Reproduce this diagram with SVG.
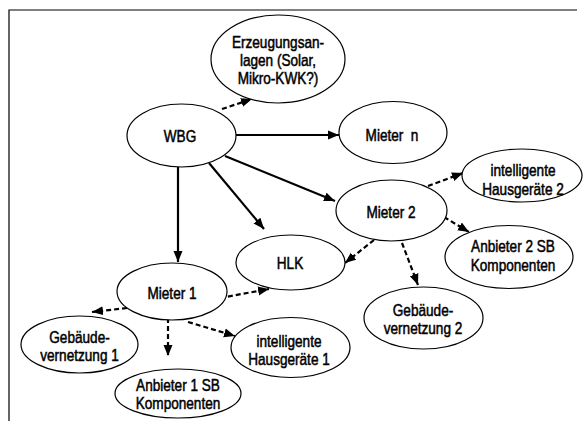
<svg xmlns="http://www.w3.org/2000/svg" width="585" height="421" viewBox="0 0 585 421">
  <style>
    .node ellipse { fill: #ffffff; stroke: #000000; stroke-width: 1.2; }
    .node text { font-family: "Liberation Sans", Arial, sans-serif; font-size: 16px; fill: #000000; stroke: #000000; stroke-width: 0.5; text-anchor: middle; }
    .solid { fill: none; stroke: #000000; stroke-width: 2.2; marker-end: url(#arrow); }
    .dashed { fill: none; stroke: #000000; stroke-width: 2.2; stroke-dasharray: 5 3; marker-end: url(#arrow); }
    .frame { fill: none; stroke: #000000; stroke-width: 1.2; }
  </style>
  <defs>
    <marker id="arrow" markerUnits="userSpaceOnUse" markerWidth="12" markerHeight="10" refX="11" refY="5" orient="auto">
      <path d="M0,0.5 L11,5 L0,9.5 Z" fill="#000000"/>
    </marker>
  </defs>
  <rect width="585" height="421" fill="#ffffff"/>
  <path class="frame" d="M9,421 V10 H577"/>

  <g id="connectors">
    <path class="dashed" d="M222,109 L252,99"/>
    <path class="solid" d="M236,135 L339,135"/>
    <path class="solid" d="M225,156 L335,201"/>
    <path class="solid" d="M209,163 L264,229"/>
    <path class="solid" d="M178,167 L178,262"/>
    <path class="dashed" d="M428,186 L463,173"/>
    <path class="dashed" d="M444,217 L469,232"/>
    <path class="dashed" d="M374,240 L345,263"/>
    <path class="dashed" d="M402,243 L418,285"/>
    <path class="dashed" d="M220,298 L269,289"/>
    <path class="dashed" d="M127,308 L92,312"/>
    <path class="dashed" d="M168,318 L168,356"/>
    <path class="dashed" d="M188,322 L235,336"/>
  </g>

  <!-- labels are set in a horizontally condensed Arial-metric face -->
  <g id="erzeugungsanlagen" class="node">
    <ellipse cx="278" cy="59" rx="67" ry="44"/>
    <text transform="translate(278 0) scale(0.85 1)"><tspan x="0" y="48">Erzeugungsan-</tspan><tspan x="0" y="66">lagen (Solar,</tspan><tspan x="0" y="84">Mikro-KWK?)</tspan></text>
  </g>
  <g id="wbg" class="node">
    <ellipse cx="181.5" cy="135.5" rx="54.5" ry="31.5"/>
    <text transform="translate(180 0) scale(0.85 1)" y="142">WBG</text>
  </g>
  <g id="mieter-n" class="node">
    <ellipse cx="393" cy="132.5" rx="54" ry="31"/>
    <text transform="translate(392 0) scale(0.85 1)" y="141" xml:space="preserve">Mieter  n</text>
  </g>
  <g id="hausgeraete-2" class="node">
    <ellipse cx="522" cy="175.5" rx="60" ry="26.5"/>
    <text transform="translate(523 0) scale(0.85 1)"><tspan x="0" y="176.5">intelligente</tspan><tspan x="0" y="195">Hausgeräte 2</tspan></text>
  </g>
  <g id="mieter-2" class="node">
    <ellipse cx="391.5" cy="210.5" rx="55.5" ry="30.5"/>
    <text transform="translate(391 0) scale(0.85 1)" y="218">Mieter 2</text>
  </g>
  <g id="anbieter-2" class="node">
    <ellipse cx="509" cy="257" rx="64" ry="31.5"/>
    <text transform="translate(513 0) scale(0.85 1)"><tspan x="0" y="252.5">Anbieter 2 SB</tspan><tspan x="0" y="271">Komponenten</tspan></text>
  </g>
  <g id="hlk" class="node">
    <ellipse cx="290.5" cy="262.5" rx="54.5" ry="27.5"/>
    <text transform="translate(290 0) scale(0.85 1)" y="269">HLK</text>
  </g>
  <g id="gebaeude-2" class="node">
    <ellipse cx="423.5" cy="318" rx="59.5" ry="31"/>
    <text transform="translate(423 0) scale(0.85 1)"><tspan x="0" y="316">Gebäude-</tspan><tspan x="0" y="334.5">vernetzung 2</tspan></text>
  </g>
  <g id="mieter-1" class="node">
    <ellipse cx="172" cy="291.5" rx="55" ry="28.5"/>
    <text transform="translate(172 0) scale(0.85 1)" y="299">Mieter 1</text>
  </g>
  <g id="gebaeude-1" class="node">
    <ellipse cx="79.5" cy="344.5" rx="58.5" ry="28.5"/>
    <text transform="translate(79.5 0) scale(0.85 1)"><tspan x="0" y="343">Gebäude-</tspan><tspan x="0" y="361.5">vernetzung 1</tspan></text>
  </g>
  <g id="anbieter-1" class="node">
    <ellipse cx="178" cy="393.5" rx="63" ry="24.5"/>
    <text transform="translate(178 0) scale(0.85 1)"><tspan x="0" y="391">Anbieter 1 SB</tspan><tspan x="0" y="409.5">Komponenten</tspan></text>
  </g>
  <g id="hausgeraete-1" class="node">
    <ellipse cx="290.5" cy="347.5" rx="59.5" ry="30"/>
    <text transform="translate(289 0) scale(0.85 1)"><tspan x="0" y="347">intelligente</tspan><tspan x="0" y="365.5">Hausgeräte 1</tspan></text>
  </g>
</svg>
